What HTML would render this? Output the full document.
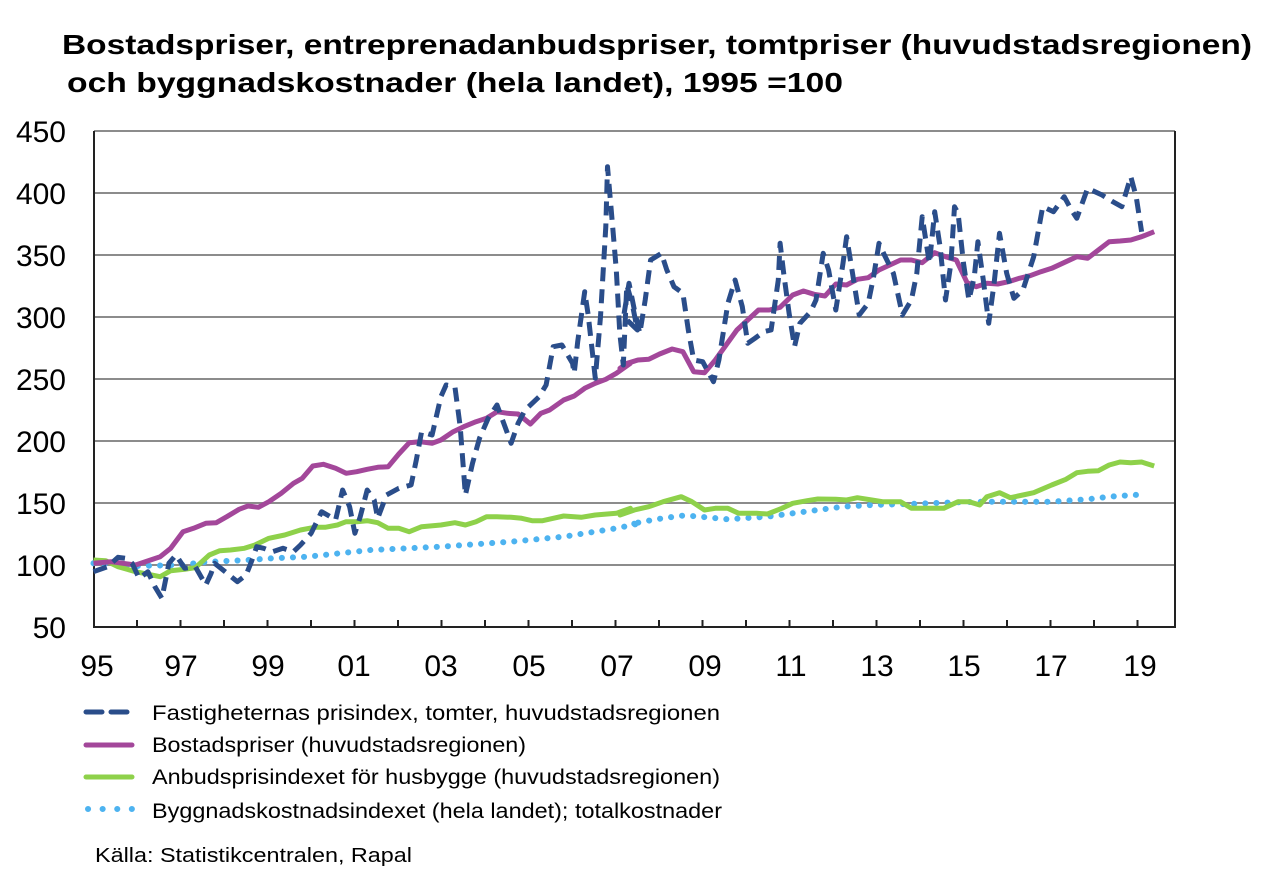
<!DOCTYPE html>
<html><head><meta charset="utf-8"><style>
html,body{margin:0;padding:0;background:#fff;}
svg{display:block;font-family:"Liberation Sans",Arial,sans-serif;}
</style></head><body>
<svg id="s" width="1262" height="877" viewBox="0 0 1262 877" xmlns="http://www.w3.org/2000/svg">
<text x="62" y="54" font-size="28" font-weight="bold" fill="#000" textLength="1190" lengthAdjust="spacingAndGlyphs">Bostadspriser, entreprenadanbudspriser, tomtpriser (huvudstadsregionen)</text>
<text x="67" y="92" font-size="28" font-weight="bold" fill="#000" textLength="776" lengthAdjust="spacingAndGlyphs">och byggnadskostnader (hela landet), 1995 =100</text>
<g stroke="#8c8c8c" stroke-width="2">
<line x1="94" y1="131" x2="1175" y2="131"/><line x1="94" y1="193" x2="1175" y2="193"/>
<line x1="94" y1="255" x2="1175" y2="255"/><line x1="94" y1="317" x2="1175" y2="317"/>
<line x1="94" y1="379" x2="1175" y2="379"/><line x1="94" y1="441" x2="1175" y2="441"/>
<line x1="94" y1="503" x2="1175" y2="503"/><line x1="94" y1="565" x2="1175" y2="565"/>
</g>
<g stroke="#222" stroke-width="2" fill="none">
<line x1="94" y1="131" x2="94" y2="627"/><line x1="1175" y1="131" x2="1175" y2="627"/>
<line x1="93" y1="627" x2="1176" y2="627"/>
</g>
<g id="ticks" stroke="#222" stroke-width="2"></g>
<g font-size="30" fill="#000" text-anchor="end">
<text x="66" y="142">450</text><text x="66" y="204">400</text><text x="66" y="266">350</text>
<text x="66" y="328">300</text><text x="66" y="390">250</text><text x="66" y="452">200</text>
<text x="66" y="514">150</text><text x="66" y="576">100</text><text x="66" y="638">50</text>
</g>
<g font-size="30" fill="#000" text-anchor="middle">
<text x="97" y="676">95</text><text x="181" y="676">97</text><text x="268" y="676">99</text>
<text x="354" y="676">01</text><text x="441" y="676">03</text><text x="529" y="676">05</text>
<text x="617" y="676">07</text><text x="705" y="676">09</text><text x="791" y="676">11</text>
<text x="877" y="676">13</text><text x="964" y="676">15</text><text x="1051" y="676">17</text>
<text x="1140" y="676">19</text>
</g>
<g id="series" fill="none" stroke-linejoin="round"></g>
<line x1="86" y1="712" x2="130" y2="712" stroke="#2a4d8a" stroke-width="5" stroke-dasharray="16,9" stroke-linecap="round"/>
<line x1="86" y1="745" x2="132" y2="745" stroke="#a3479a" stroke-width="5" stroke-linecap="round"/>
<line x1="86" y1="777" x2="132" y2="777" stroke="#8ed14a" stroke-width="5" stroke-linecap="round"/>
<line x1="88" y1="809" x2="133" y2="809" stroke="#4db3f0" stroke-width="6" stroke-dasharray="0.1,14.5" stroke-linecap="round"/>
<g font-size="21" fill="#000">
<text x="152" y="720" textLength="568" lengthAdjust="spacingAndGlyphs">Fastigheternas prisindex, tomter, huvudstadsregionen</text>
<text x="152" y="752" textLength="374" lengthAdjust="spacingAndGlyphs">Bostadspriser (huvudstadsregionen)</text>
<text x="152" y="784" textLength="568" lengthAdjust="spacingAndGlyphs">Anbudsprisindexet för husbygge (huvudstadsregionen)</text>
<text x="152" y="818" textLength="570" lengthAdjust="spacingAndGlyphs">Byggnadskostnadsindexet (hela landet); totalkostnader</text>
<text x="95" y="862" font-size="20" textLength="317" lengthAdjust="spacingAndGlyphs">Källa: Statistikcentralen, Rapal</text>
</g>
<script>
var NS="http://www.w3.org/2000/svg";
function c1(a){return a.map(function(p){return [90+p[0]/2.85,130+p[1]/3];});}
function c2(a){return a.map(function(p){return [620+p[0]/2.78,130+p[1]/3];});}
function draw(pts,attrs){var e=document.createElementNS(NS,"polyline");
e.setAttribute("points",pts.map(function(p){return p[0].toFixed(1)+","+p[1].toFixed(1)}).join(" "));
for(var k in attrs)e.setAttribute(k,attrs[k]);document.getElementById("series").appendChild(e);}
var tg=document.getElementById("ticks");
for(var i=1;i<=24;i++){var x=93.5+i*43.5;var l=document.createElementNS(NS,"line");
l.setAttribute("x1",x);l.setAttribute("x2",x);l.setAttribute("y1",620);l.setAttribute("y2",627);tg.appendChild(l);}
var dot1=c1([[10,1300],[130,1308],[260,1305],[330,1296],[450,1290],[520,1285],[620,1280],[800,1260],[1000,1250],[1200,1235],[1350,1220],[1500,1195],[1568,1180]]);
var dot2=c2([[30,1182],[100,1168],[170,1157],[200,1158],[240,1162],[300,1168],[340,1165],[410,1160],[480,1150],[550,1140],[620,1130],[700,1125],[800,1122],[900,1118],[1000,1115],[1100,1115],[1200,1115],[1300,1108],[1360,1100],[1460,1093]]);
draw(dot1.concat(dot2),{stroke:"#4db3f0","stroke-width":6,"stroke-dasharray":"0.1,11","stroke-linecap":"round"});
var g1=c1([[10,1290],[45,1292],[80,1310],[130,1325],[200,1340],[230,1322],[270,1318],[300,1313],[340,1275],[370,1262],[400,1260],[440,1255],[470,1245],[510,1225],[555,1215],[600,1200],[640,1192],[670,1192],[705,1185],[730,1175],[760,1175],[790,1172],[820,1178],[850,1195],[880,1195],[910,1205],[945,1190],[1000,1185],[1040,1178],[1070,1185],[1100,1175],[1130,1160],[1160,1160],[1200,1162],[1230,1165],[1260,1172],[1290,1172],[1320,1165],[1350,1158],[1400,1162],[1440,1155],[1500,1150],[1540,1135]]);
var g2=c2([[0,1155],[40,1140],[80,1130],[120,1115],[170,1100],[200,1115],[235,1140],[265,1135],[300,1135],[330,1150],[380,1150],[410,1152],[450,1135],[480,1120],[520,1112],[550,1107],[600,1108],[630,1110],[660,1103],[700,1110],[730,1115],[780,1115],[810,1135],[860,1135],[900,1135],[940,1115],[970,1115],[1000,1125],[1020,1100],[1055,1088],[1085,1103],[1120,1095],[1150,1088],[1200,1065],[1240,1048],[1270,1028],[1300,1024],[1330,1022],[1360,1005],[1390,996],[1420,998],[1450,996],[1485,1008]]);
draw(g1.concat(g2),{stroke:"#8ed14a","stroke-width":5});
var p1=c1([[10,1300],[60,1295],[130,1305],[200,1280],[230,1255],[265,1205],[295,1195],[330,1180],[360,1178],[390,1160],[425,1138],[450,1128],[480,1132],[510,1115],[545,1090],[580,1060],[605,1045],[635,1008],[665,1003],[700,1015],[730,1030],[760,1025],[790,1018],[820,1012],[850,1010],[880,972],[910,938],[940,935],[975,940],[1000,930],[1035,905],[1065,890],[1100,875],[1130,865],[1160,845],[1190,850],[1220,852],[1255,882],[1285,850],[1310,840],[1350,810],[1380,798],[1410,775],[1440,760],[1470,748],[1500,730],[1540,700]]);
var p2=c2([[0,715],[20,700],[50,690],[80,688],[110,672],[145,657],[175,665],[205,725],[235,728],[265,690],[295,645],[325,600],[355,570],[385,540],[415,540],[445,532],[480,495],[510,483],[540,493],[570,498],[600,462],[630,465],[660,448],[690,443],[720,420],[750,405],[780,390],[810,390],[840,398],[875,368],[905,380],[935,390],[965,458],[990,470],[1020,460],[1050,462],[1080,455],[1110,445],[1140,437],[1170,425],[1200,415],[1240,395],[1270,380],[1300,385],[1330,360],[1360,335],[1390,333],[1420,330],[1450,320],[1485,305]]);
draw(p1.concat(p2),{stroke:"#a3479a","stroke-width":5});
var d1=c1([[10,1325],[50,1310],[80,1282],[100,1285],[120,1300],[140,1345],[165,1325],[185,1370],[205,1405],[225,1300],[245,1275],[270,1315],[300,1310],[330,1365],[345,1330],[355,1300],[385,1325],[420,1355],[445,1335],[460,1295],[475,1250],[495,1255],[520,1265],[550,1255],[580,1265],[600,1245],[630,1210],[660,1145],[685,1160],[700,1170],[720,1080],[740,1130],[755,1210],[770,1160],[790,1080],[810,1110],[820,1165],[845,1095],[880,1075],[915,1065],[930,990],[945,905],[975,915],[1000,800],[1015,765],[1040,770],[1055,890],[1070,1095],[1090,1000],[1110,925],[1135,865],[1160,825],[1200,940],[1220,880],[1240,840],[1280,800],[1300,765],[1320,650],[1345,645],[1375,700],[1380,730],[1390,635],[1410,485],[1420,555],[1440,745],[1455,560],[1470,290],[1475,110],[1490,295],[1500,420],[1510,610],[1520,705],[1530,465],[1545,520],[1560,600]]);
var d2=c2([[10,560],[25,460],[40,540],[55,610],[70,510],[85,390],[115,370],[130,420],[150,470],[175,490],[190,600],[205,690],[230,695],[260,755],[275,690],[300,520],[320,450],[340,530],[355,640],[375,625],[400,605],[420,600],[440,450],[445,340],[455,430],[470,550],[485,650],[500,580],[530,545],[545,510],[565,370],[580,420],[600,540],[620,400],[630,320],[645,420],[665,555],[690,520],[705,440],[720,340],[735,375],[760,430],[785,555],[810,510],[825,430],[840,260],[860,400],[875,245],[890,350],[905,510],[920,400],[930,230],[940,250],[955,400],[970,510],[985,440],[995,335],[1010,450],[1025,580],[1040,460],[1055,310],[1075,430],[1095,505],[1120,480],[1150,380],[1175,230],[1205,245],[1235,200],[1255,240],[1270,265],[1300,175],[1340,195],[1370,215],[1395,230],[1420,140],[1435,200],[1450,305]]);
draw(d1.concat(d2),{stroke:"#2a4d8a","stroke-width":5,"stroke-dasharray":"14,8"});
</script>
</svg>
</body></html>
